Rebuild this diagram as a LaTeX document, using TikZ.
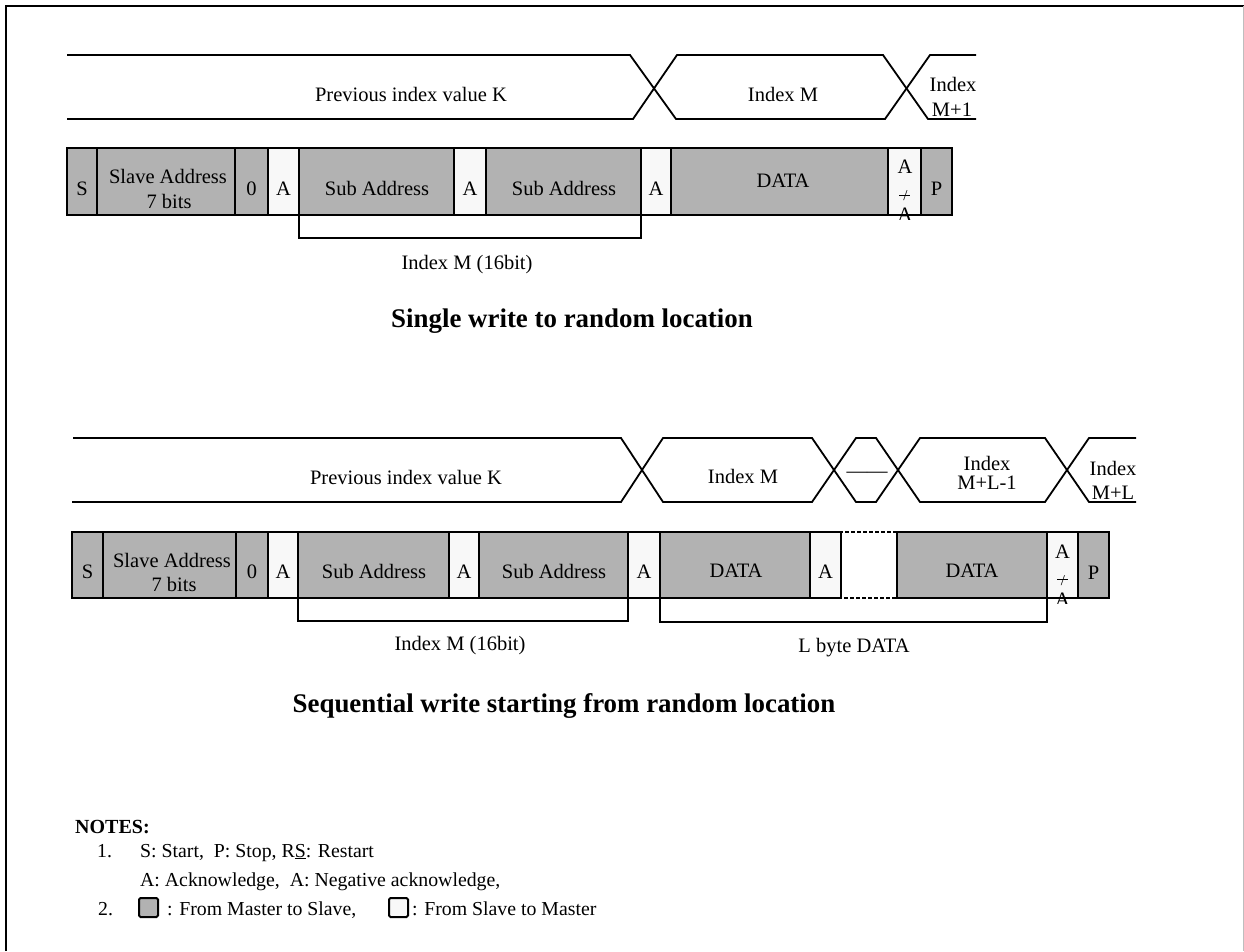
\documentclass[tikz,border=0pt]{standalone}
\usepackage{fontspec}
\setmainfont{Liberation Serif}
\definecolor{mgray}{RGB}{178,178,178}
\definecolor{swhite}{RGB}{248,248,248}
\definecolor{framegray}{RGB}{190,190,190}
% one packet field: name, style, left x, right x, top y, height
\newcommand\pkfield[6]{\node[#2, minimum width={#4-#3}, minimum height=#6] (#1) at (#3,#5) {};}
\begin{document}
\begin{tikzpicture}[x=1pt,y=-1pt,
  txt/.style={font=\fontsize{20.5}{24}\selectfont, inner sep=0pt, anchor=base},
  small/.style={font=\fontsize{15}{18}\selectfont, inner sep=0pt, anchor=base},
  ttl/.style={font=\fontsize{26.9}{30}\selectfont\bfseries, inner sep=0pt, anchor=base},
  note/.style={font=\fontsize{19.8}{24}\selectfont, inner sep=0pt, anchor=base west},
  mfield/.style={draw, line width=2pt, fill=mgray, inner sep=0pt, outer sep=0pt, anchor=north west},
  sfield/.style={mfield, fill=swhite},
  keybox/.style={draw, line width=2pt, rounded corners=1.5pt, inner sep=0pt, outer sep=0pt,
                 minimum width=19pt, minimum height=19pt, anchor=north west},
  wave/.style={line width=1.8pt},
  bracket/.style={line width=1.8pt},
  gapline/.style={line width=2.6pt, dash pattern=on 4pt off 2pt}]
\useasboundingbox (0,0) rectangle (1244,951);

% frame
\draw[line width=1.5pt] (6,951) -- (6,6) -- (1244,6);
\draw[line width=1pt, framegray] (1243,6) -- (1243,951);

% ---------------- single write ----------------
% index bus
\draw[wave] (67,55) -- (630,55) -- (676,119) -- (885,119) -- (930,55) -- (976,55);
\draw[wave] (67,119) -- (633,119) -- (677,55) -- (883,55) -- (928,119) -- (976,119);
\node[txt] (w1k) at (411,101) {Previous index value K};
\node[txt] (w1m) at (783,101) {Index M};
\node[txt] (w1n1) at (953,91) {Index};
\node[txt] (w1n2) at (952,116) {M+1};

% packet
\pkfield{c1s}{mfield}{67}{97}{148}{67}
\pkfield{c1sa}{mfield}{97}{235}{148}{67}
\pkfield{c1z}{mfield}{235}{268}{148}{67}
\pkfield{c1a1}{sfield}{268}{299}{148}{67}
\pkfield{c1sub1}{mfield}{299}{454}{148}{67}
\pkfield{c1a2}{sfield}{454}{486}{148}{67}
\pkfield{c1sub2}{mfield}{486}{641}{148}{67}
\pkfield{c1a3}{sfield}{641}{671}{148}{67}
\pkfield{c1d}{mfield}{671}{888}{148}{67}
\pkfield{c1n}{sfield}{888}{921}{148}{67}
\pkfield{c1p}{mfield}{921}{952}{148}{67}

\node[txt] (t1s) at (82,195) {S};
\node[txt] (t1sa) at (168,183) {Slave Address};
\node[txt] (t1sb) at (169,208) {7 bits};
\node[txt] (t1z) at (251.5,195) {0};
\node[txt] (t1a1) at (283.5,195) {A};
\node[txt] (t1sub1) at (377,195) {Sub Address};
\node[txt] (t1a2) at (470,195) {A};
\node[txt] (t1sub2) at (564,195) {Sub Address};
\node[txt] (t1a3) at (656,195) {A};
\node[txt] (t1d) at (783,187) {DATA};
\node[txt] (t1n1) at (905,173) {A};
\node[small] (t1n2) at (905.5,200) {/};
\draw[line width=0.8pt] (899,195) -- (910,195);
\begin{scope}
  \clip (888,140) rectangle (921,219);
  \node[txt] (t1n3) at (905,221) {A};
\end{scope}
\node[txt] (t1p) at (936.5,195) {P};

\draw[bracket] (c1sub1.south west) -- ++(0,23) -| (c1sub2.south east);
\node[txt] (t1idx) at (467,269) {Index M (16bit)};

\node[ttl] (title1) at (572,327) {Single write to random location};

% ---------------- sequential write ----------------
% index bus
\draw[wave] (73,438) -- (621,438) -- (663,502) -- (812,502) -- (856,438) -- (876,438)
  -- (920,502) -- (1045,502) -- (1089,438) -- (1136,438);
\draw[wave] (72,502) -- (621,502) -- (663,438) -- (812,438) -- (856,502) -- (876,502)
  -- (920,438) -- (1045,438) -- (1089,502) -- (1136,502);
\node[txt] (w2k) at (406,484) {Previous index value K};
\node[txt] (w2m) at (743,483) {Index M};
\node[txt] (w2dots) at (867,477) {——};
\node[txt] (w2l1) at (987,470) {Index};
\node[txt] (w2l2) at (987,489) {M+L-1};
\node[txt] (w2n1) at (1113,475) {Index};
\node[txt] (w2n2) at (1113,499) {M+L};

% packet
\pkfield{c2s}{mfield}{72}{103}{532}{66}
\pkfield{c2sa}{mfield}{103}{236}{532}{66}
\pkfield{c2z}{mfield}{236}{268}{532}{66}
\pkfield{c2a1}{sfield}{268}{298}{532}{66}
\pkfield{c2sub1}{mfield}{298}{449}{532}{66}
\pkfield{c2a2}{sfield}{449}{479}{532}{66}
\pkfield{c2sub2}{mfield}{479}{628}{532}{66}
\pkfield{c2a3}{sfield}{628}{660}{532}{66}
\pkfield{c2d1}{mfield}{660}{810}{532}{66}
\pkfield{c2a4}{sfield}{810}{841}{532}{66}
\pkfield{c2d2}{mfield}{897}{1047}{532}{66}
\pkfield{c2n}{sfield}{1047}{1078}{532}{66}
\pkfield{c2p}{mfield}{1078}{1109}{532}{66}

% repeated bytes left out
\draw[gapline] (779,532) -- (c2d2.north west);
\draw[gapline] (820,598) -- (900,598);

\node[txt] (t2s) at (87.5,578) {S};
\node[txt] (t2sa) at (172,567) {Slave Address};
\node[txt] (t2sb) at (174,591) {7 bits};
\node[txt] (t2z) at (252,578) {0};
\node[txt] (t2a1) at (283,578) {A};
\node[txt] (t2sub1) at (374,578) {Sub Address};
\node[txt] (t2a2) at (464,578) {A};
\node[txt] (t2sub2) at (554,578) {Sub Address};
\node[txt] (t2a3) at (644,578) {A};
\node[txt] (t2d1) at (736,577) {DATA};
\node[txt] (t2a4) at (825.5,578) {A};
\node[txt] (t2d2) at (972,577) {DATA};
\node[txt] (t2n1) at (1062.5,558) {A};
\node[small] (t2n2) at (1063,585) {/};
\draw[line width=0.8pt] (1057,579) -- (1068,579);
\begin{scope}
  \clip (1047,520) rectangle (1078,603);
  \node[txt] (t2n3) at (1062.5,606) {A};
\end{scope}
\node[txt] (t2p) at (1093.5,579) {P};

\draw[bracket] (c2sub1.south west) -- ++(0,23) -| (c2sub2.south east);
\draw[bracket] (c2d1.south west) -- ++(0,24) -| (c2d2.south east);
\node[txt] (t2idx) at (460,650) {Index M (16bit)};
\node[txt] (t2len) at (854,652) {L byte DATA};

\node[ttl] (title2) at (564,712) {Sequential write starting from random location};

% ---------------- notes ----------------
\node[note, font=\fontsize{20}{24}\selectfont\bfseries] (nhead) at (75,833) {NOTES:};
\node[note] (n1num) at (97,857) {1.};
\node[note] (n1a) at (140,857) {S: Start,\ \ P: Stop, R\underline{S}: Restart};
\node[note] (n1b) at (140,886) {A: Acknowledge,\ \ A: Negative acknowledge,};
\node[note] (n2num) at (98,915) {2.};
\node[keybox, fill=mgray] (kmaster) at (139,898) {};
\node[note] (n2a) at (167,915) {: From Master to Slave,};
\node[keybox, fill=swhite] (kslave) at (389,898) {};
\node[note] (n2b) at (412,915) {: From Slave to Master};
\end{tikzpicture}
\end{document}
